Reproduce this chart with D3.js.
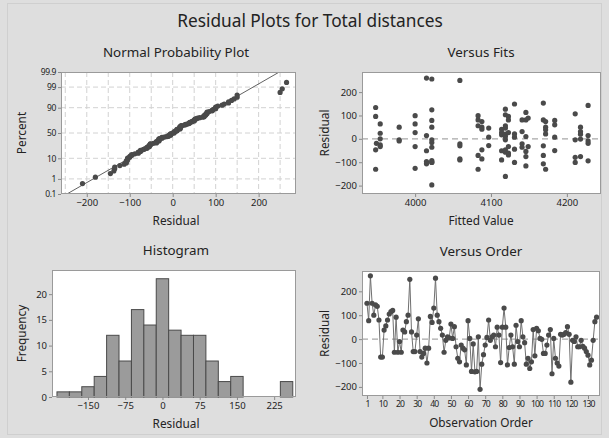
<!DOCTYPE html>
<html>
<head>
<meta charset="utf-8">
<script src="https://cdn.jsdelivr.net/npm/d3@7"></script>
<style>
  html, body { margin: 0; padding: 0; background: #dedede; }
  svg { display: block; }
  text { font-family: "Noto Sans", "Open Sans", sans-serif; fill: #232323; }
</style>
</head>
<body>
<svg id="chart" width="609" height="438"></svg>
<script>
// ---------------- DATA ----------------
const mainTitle = "Residual Plots for Total distances";

// Residuals in observation order (read from "Versus Order")
const orderResiduals = [
  150, 77, 265, 150, 100, 143, 137, 80, -75, -75,
  38, 55, 80, 105, 115, 120, -55, 92, -55, -10,
  -55, 38, 30, 73, 100, 250, 30, -52, -52, 17,
  85, -52, -75, -60, -38, -100, -38, 95, 70, 130,
  255, 100, 73, 45, 17, -55, -5, 10, 5, 63,
  3, 52, -32, -80, -95, -25, -38, -45, -108, 77,
  3, -135, -20, -137, -135, 10, -210, -105, -65, -25,
  7, 80, -5, 10, 17, -32, 50, 17, -98, 50,
  130, 50, -108, -35, 17, -32, -105, 58, -10, -32,
  77, 10, -15, -105, -80, -123, -95, 40, -70, 45,
  35, 3, -1, -60, -60, -25, 17, 40, -145, 3,
  -80, -100, -113, 20, 17, 20, 27, 52, 20, -180,
  -5, -10, 10, -32, -32, -5, -30, -38, -52, -67,
  -108, -88, -5, 73, 92
];

// Versus Fits: fitted values and residuals
const fitValues = [
  3948,3948,3948,3948,3949,
  3954,3954,3954,3954,3954,
  3979,3979,3979,
  4000,4000,4000,4000,4000,
  4015,4015,4015,4015,4015,
  4022,4022,4022,4022,4022,4022,4022,4022,4022,4022,4022,
  4059,4059,4059,4059,4059,
  4083,4083,4083,4083,4083,
  4088,4088,4088,4088,4088,
  4097,4097,4097,
  4114,4114,4114,4114,4114,
  4119,4119,4119,4119,4119,4119,4119,4119,4119,4119,
  4123,4123,4123,4123,4123,4123,
  4131,4131,4131,4131,4131,
  4141,4141,4141,4141,
  4146,4146,4146,4146,4146,4146,
  4149,4149,
  4169,4169,4169,4169,4169,
  4172,4172,4172,4172,4172,
  4184,4184,4184,4184,
  4211,4211,4211,4211,
  4218,4218,4218,4218,4218,
  4228,4228,4228,4228,4228
];
const fitResiduals = [
  134,96,-47,-130,-19,
  64,24,0,-26,-33,
  50,-4,-9,
  99,64,27,-33,-126,
  260,14,-51,-97,-107,
  256,124,79,50,-4,-16,-36,-93,-100,-197,-101,
  250,-21,-30,-86,-90,
  99,81,56,-71,-130,
  74,50,41,-47,-86,
  46,7,-29,
  41,27,17,-51,-90,
  127,103,56,46,20,10,-4,-47,-57,-161,
  96,81,27,-33,-61,-69,
  149,21,7,-44,-101,
  81,31,-21,-36,
  113,81,10,-54,-76,-116,
  89,-33,
  153,81,-30,-71,-107,
  74,50,39,21,-130,
  79,60,7,-50,
  107,-4,-79,-101,
  50,31,20,-1,-76,
  143,14,-9,-19,-94
];

// Histogram (bin centres and counts)
const histBinCenters = [-200,-175,-150,-125,-100,-75,-50,-25,0,25,50,75,100,125,150,175,200,225,250];
const histCounts     = [1,1,2,4,12,7,17,14,23,13,12,12,7,3,4,0,0,0,3];
const histBinWidth = 25;

// Normal probability plot: fitted line (mean, st.dev.) and axis ticks
const nppLineMean = 1;
const nppLineSd = 80;
const nppYTicks = [0.1, 1, 10, 50, 90, 99, 99.9];
const nppYGrid = [1, 10, 50, 90, 99];
const nppXTicks = [-200, -100, 0, 100, 200];
const nppXGrid = [-250, -200, -150, -100, -50, 0, 50, 100, 150, 200, 250];

const fitsXTicks = [4000, 4100, 4200];
const residTicks = [-200, -100, 0, 100, 200];
const histXTicks = [-150, -75, 0, 75, 150, 225];
const histYTicks = [0, 5, 10, 15, 20];
const orderXTicks = [1, 10, 20, 30, 40, 50, 60, 70, 80, 90, 100, 110, 120, 130];

// ---------------- DRAW ----------------
const svg = d3.select("#chart");
const W = 609, H = 438;

svg.append("rect").attr("x", 0).attr("y", 0).attr("width", W).attr("height", H).attr("fill", "#dedede");
svg.append("rect").attr("x", 7.5).attr("y", 3.5).attr("width", 594).attr("height", 431)
  .attr("fill", "none").attr("stroke", "#cfcfcf");

svg.append("text").attr("x", 310).attr("y", 27).attr("text-anchor", "middle")
  .attr("font-size", 17.3).text(mainTitle);

const dotColor = "#4a4a4a";
const dotR = 2.6;

function panel(box, title, xLabel, yLabel) {
  const g = svg.append("g");
  g.append("rect").attr("x", box.l).attr("y", box.t).attr("width", box.r - box.l).attr("height", box.b - box.t)
    .attr("fill", "#ffffff");
  g.append("text").attr("x", box.tx).attr("y", box.t - 15).attr("text-anchor", "middle")
    .attr("font-size", 13.4).text(title);
  g.append("text").attr("x", box.tx).attr("y", box.b + 31).attr("text-anchor", "middle")
    .attr("font-size", 11.8).text(xLabel);
  g.append("text").attr("transform", `translate(${box.yl},${(box.t + box.b) / 2}) rotate(-90)`)
    .attr("text-anchor", "middle").attr("font-size", 11.8).text(yLabel);
  return g;
}
function frame(g, box) {
  g.append("rect").attr("x", box.l + 0.5).attr("y", box.t + 0.5).attr("width", box.r - box.l - 1).attr("height", box.b - box.t - 1)
    .attr("fill", "none").attr("stroke", "#9a9a9a").attr("stroke-width", 1);
}
function axes(g, box, x, y, xTicks, yTicks, xFmt, yFmt) {
  const ax = g.append("g").attr("transform", `translate(0,${box.b})`)
    .call(d3.axisBottom(x).tickValues(xTicks).tickSize(3).tickPadding(2).tickFormat(xFmt || d3.format("")));
  const ay = g.append("g").attr("transform", `translate(${box.l},0)`)
    .call(d3.axisLeft(y).tickValues(yTicks).tickSize(3).tickPadding(2).tickFormat(yFmt || d3.format("")));
  [ax, ay].forEach(a => {
    a.select(".domain").remove();
    a.selectAll(".tick line").attr("stroke", "#8a8a8a");
    a.selectAll(".tick text").attr("font-size", 9.5).attr("fill", "#333")
      .style("font-family", '"Noto Sans", sans-serif');
  });
  return [ax, ay];
}
function clip(id, box) {
  svg.append("clipPath").attr("id", id).append("rect")
    .attr("x", box.l).attr("y", box.t).attr("width", box.r - box.l).attr("height", box.b - box.t);
}

// ---- Panel 1: Normal Probability Plot ----
{
  const box = {l: 61, r: 296, t: 72, b: 194, tx: 176, yl: 26};
  const g = panel(box, "Normal Probability Plot", "Residual", "Percent");
  const x = d3.scaleLinear().domain([-260, 287]).range([box.l, box.r]);
  const zmax = 3.0902;
  const y = d3.scaleLinear().domain([-zmax, zmax]).range([box.b, box.t]);
  const invN = p => { // inverse standard normal (Acklam)
    const a=[-39.69683028665376,220.9460984245205,-275.9285104469687,138.357751867269,-30.66479806614716,2.506628277459239];
    const b=[-54.47609879822406,161.5858368580409,-155.6989798598866,66.80131188771972,-13.28068155288572];
    const c=[-0.007784894002430293,-0.3223964580411365,-2.400758277161838,-2.549732539343734,4.374664141464968,2.938163982698783];
    const d=[0.007784695709041462,0.3224671290700398,2.445134137142996,3.754408661907416];
    const pl=0.02425;
    let q, r;
    if (p < pl) { q=Math.sqrt(-2*Math.log(p)); return (((((c[0]*q+c[1])*q+c[2])*q+c[3])*q+c[4])*q+c[5])/((((d[0]*q+d[1])*q+d[2])*q+d[3])*q+1); }
    if (p > 1-pl) { q=Math.sqrt(-2*Math.log(1-p)); return -(((((c[0]*q+c[1])*q+c[2])*q+c[3])*q+c[4])*q+c[5])/((((d[0]*q+d[1])*q+d[2])*q+d[3])*q+1); }
    q=p-0.5; r=q*q;
    return (((((a[0]*r+a[1])*r+a[2])*r+a[3])*r+a[4])*r+a[5])*q/(((((b[0]*r+b[1])*r+b[2])*r+b[3])*r+b[4])*r+1);
  };
  const yp = pct => y(invN(pct / 100));
  g.selectAll(".vg").data(nppXGrid).join("line")
    .attr("x1", d => x(d)).attr("x2", d => x(d)).attr("y1", box.t).attr("y2", box.b)
    .attr("stroke", "#d2d2d2").attr("stroke-dasharray", "5,3");
  g.selectAll(".hg").data(nppYGrid).join("line")
    .attr("x1", box.l).attr("x2", box.r).attr("y1", d => yp(d)).attr("y2", d => yp(d))
    .attr("stroke", "#d2d2d2").attr("stroke-dasharray", "5,3");
  clip("c1", box);
  g.append("line").attr("clip-path", "url(#c1)")
    .attr("x1", x(nppLineMean - zmax * nppLineSd)).attr("y1", y(-zmax))
    .attr("x2", x(nppLineMean + zmax * nppLineSd)).attr("y2", y(zmax))
    .attr("stroke", "#3a3a3a").attr("stroke-width", 0.8);
  const sorted = orderResiduals.slice().sort(d3.ascending);
  const n = sorted.length;
  g.selectAll(".pt").data(sorted).join("circle")
    .attr("cx", d => x(d)).attr("cy", (d, i) => yp(100 * (i + 1 - 0.3) / (n + 0.4)))
    .attr("r", dotR).attr("fill", dotColor);
  frame(g, box);
  const [ax, ay] = axes(g, box, x, y, nppXTicks, nppYTicks.map(p => invN(p / 100)));
  ay.selectAll(".tick text").text((d, i) => String(nppYTicks[i])).attr("font-size", 8.5)
    .attr("letter-spacing", -0.4);
}

// ---- Panel 2: Versus Fits ----
{
  const box = {l: 362, r: 601, t: 72, b: 194, tx: 481, yl: 329};
  const g = panel(box, "Versus Fits", "Fitted Value", "Residual");
  const x = d3.scaleLinear().domain([3930, 4245]).range([box.l, box.r]);
  const y = d3.scaleLinear().domain([-236, 286]).range([box.b, box.t]);
  g.append("line").attr("x1", box.l).attr("x2", box.r).attr("y1", y(0)).attr("y2", y(0))
    .attr("stroke", "#a8a8a8").attr("stroke-width", 1.3).attr("stroke-dasharray", "6,4");
  g.selectAll(".pt").data(fitValues.map((v, i) => [v, fitResiduals[i]])).join("circle")
    .attr("cx", d => x(d[0])).attr("cy", d => y(d[1])).attr("r", dotR).attr("fill", dotColor);
  frame(g, box);
  axes(g, box, x, y, fitsXTicks, residTicks);
}

// ---- Panel 3: Histogram ----
{
  const box = {l: 52, r: 296, t: 270, b: 397, tx: 176, yl: 26};
  const g = panel(box, "Histogram", "Residual", "Frequency");
  const x = d3.scaleLinear().domain([-222.5, 269]).range([box.l, box.r]);
  const y = d3.scaleLinear().domain([0, 24.7]).range([box.b, box.t]);
  g.selectAll(".bar").data(histBinCenters.map((c, i) => [c, histCounts[i]])).join("rect")
    .attr("x", d => x(d[0] - histBinWidth / 2)).attr("width", d => x(d[0] + histBinWidth / 2) - x(d[0] - histBinWidth / 2))
    .attr("y", d => y(d[1])).attr("height", d => y(0) - y(d[1]))
    .attr("fill", "#9b9b9b").attr("stroke", "#4a4a4a").attr("stroke-width", 1);
  frame(g, box);
  axes(g, box, x, y, histXTicks, histYTicks);
}

// ---- Panel 4: Versus Order ----
{
  const box = {l: 362, r: 600, t: 271, b: 396, tx: 481, yl: 329};
  const g = panel(box, "Versus Order", "Observation Order", "Residual");
  const x = d3.scaleLinear().domain([-1.9, 137]).range([box.l, box.r]);
  const y = d3.scaleLinear().domain([-238, 285]).range([box.b, box.t]);
  g.append("line").attr("x1", box.l).attr("x2", box.r).attr("y1", y(0)).attr("y2", y(0))
    .attr("stroke", "#a8a8a8").attr("stroke-width", 1.3).attr("stroke-dasharray", "6,4");
  const pts = orderResiduals.map((r, i) => [i + 1, r]);
  g.append("path").datum(pts)
    .attr("d", d3.line().x(d => x(d[0])).y(d => y(d[1])))
    .attr("fill", "none").attr("stroke", "#707070").attr("stroke-width", 1);
  g.selectAll(".pt").data(pts).join("circle")
    .attr("cx", d => x(d[0])).attr("cy", d => y(d[1])).attr("r", dotR).attr("fill", dotColor);
  frame(g, box);
  const [ax] = axes(g, box, x, y, orderXTicks, residTicks);
  ax.selectAll(".tick text").attr("font-size", 8.6).attr("letter-spacing", -0.9);
}
</script>
</body>
</html>
